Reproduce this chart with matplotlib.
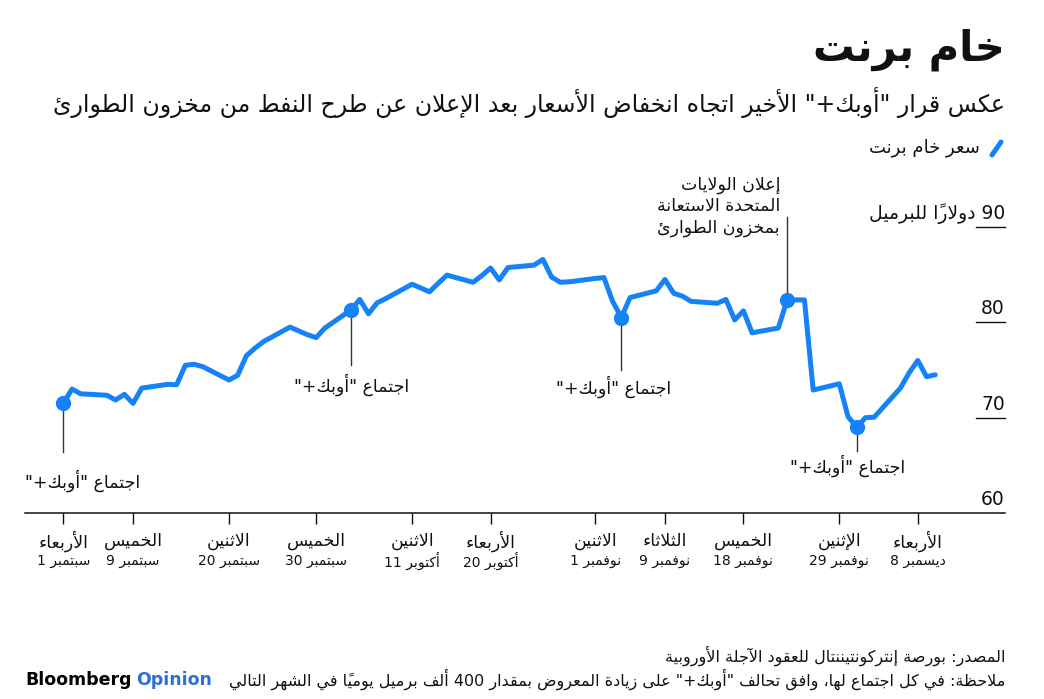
import re

import matplotlib

matplotlib.use("Agg")
import matplotlib.pyplot as plt
import matplotlib.transforms as mtransforms
from matplotlib.lines import Line2D
import pandas as pd

# ---------------- data ----------------
trade_dates = [
    "2021-09-01", "2021-09-02", "2021-09-03", "2021-09-06", "2021-09-07",
    "2021-09-08", "2021-09-09", "2021-09-10", "2021-09-13", "2021-09-14",
    "2021-09-15", "2021-09-16", "2021-09-17", "2021-09-20", "2021-09-21",
    "2021-09-22", "2021-09-23", "2021-09-24", "2021-09-27", "2021-09-28",
    "2021-09-29", "2021-09-30", "2021-10-01", "2021-10-04", "2021-10-05",
    "2021-10-06", "2021-10-07", "2021-10-08", "2021-10-11", "2021-10-12",
    "2021-10-13", "2021-10-14", "2021-10-15", "2021-10-18", "2021-10-19",
    "2021-10-20", "2021-10-21", "2021-10-22", "2021-10-25", "2021-10-26",
    "2021-10-27", "2021-10-28", "2021-10-29", "2021-11-01", "2021-11-02",
    "2021-11-03", "2021-11-04", "2021-11-05", "2021-11-08", "2021-11-09",
    "2021-11-10", "2021-11-11", "2021-11-12", "2021-11-15", "2021-11-16",
    "2021-11-17", "2021-11-18", "2021-11-19", "2021-11-22", "2021-11-23",
    "2021-11-24", "2021-11-25", "2021-11-26", "2021-11-29", "2021-11-30",
    "2021-12-01", "2021-12-02", "2021-12-03", "2021-12-06", "2021-12-07",
    "2021-12-08", "2021-12-09", "2021-12-10",
]
brent = [
    71.5, 73.0, 72.5, 72.35, 71.85,
    72.45, 71.5, 73.1, 73.5, 73.45,
    75.5, 75.6, 75.35, 73.95, 74.45,
    76.5, 77.3, 78.0, 79.5, 79.1,
    78.7, 78.4, 79.4, 81.3, 82.4,
    80.9, 82.05, 82.5, 84.0, 83.6,
    83.2, 84.1, 84.95, 84.2, 84.9,
    85.7, 84.45, 85.75, 86.0, 86.6,
    84.75, 84.2, 84.25, 84.6, 84.7,
    82.2, 80.5, 82.6, 83.3, 84.5,
    83.05, 82.75, 82.2, 82.0, 82.4,
    80.25, 81.2, 78.9, 79.4, 82.3,
    82.35, 82.35, 72.9, 73.55, 70.1,
    69.0, 70.0, 70.05, 73.1, 74.7,
    76.0, 74.3, 74.5,
]
opec_meetings = ["2021-09-01", "2021-10-04", "2021-11-04", "2021-12-01"]
spr_release = "2021-11-23"

tick_dates = ["2021-09-01", "2021-09-09", "2021-09-20", "2021-09-30", "2021-10-11",
              "2021-10-20", "2021-11-01", "2021-11-09", "2021-11-18", "2021-11-29",
              "2021-12-08"]
tick_weekdays = ["الأربعاء", "الخميس", "الاثنين", "الخميس", "الاثنين", "الأربعاء",
                 "الاثنين", "الثلاثاء", "الخميس", "الإثنين", "الأربعاء"]
month_names = {9: "سبتمبر", 10: "أكتوبر", 11: "نوفمبر", 12: "ديسمبر"}
y_ticks = [60, 70, 80, 90]

title = "خام برنت"
subtitle = 'عكس قرار "أوبك+" الأخير اتجاه انخفاض الأسعار بعد الإعلان عن طرح النفط من مخزون الطوارئ'
legend_label = "سعر خام برنت"
unit_label = "دولاراً للبرميل"
meeting_label = 'اجتماع "أوبك+"'
spr_label = ["إعلان الولايات", "المتحدة الاستعانة", "بمخزون الطوارئ"]
source = "المصدر: بورصة إنتركونتيننتال للعقود الآجلة الأوروبية"
note = 'ملاحظة: في كل اجتماع لها، وافق تحالف "أوبك+" على زيادة المعروض بمقدار 400 ألف برميل يومياً في الشهر التالي'

# ---------------- simple Arabic shaping (matplotlib has none) ----------------
FORMS = {}
_code = 0xFE80
for _ch, _n in [("ء", 1), ("آ", 2), ("أ", 2), ("ؤ", 2), ("إ", 2), ("ئ", 4), ("ا", 2),
                ("ب", 4), ("ة", 2), ("ت", 4), ("ث", 4), ("ج", 4), ("ح", 4), ("خ", 4),
                ("د", 2), ("ذ", 2), ("ر", 2), ("ز", 2), ("س", 4), ("ش", 4), ("ص", 4),
                ("ض", 4), ("ط", 4), ("ظ", 4), ("ع", 4), ("غ", 4), ("ف", 4), ("ق", 4),
                ("ك", 4), ("ل", 4), ("م", 4), ("ن", 4), ("ه", 4), ("و", 2), ("ى", 2),
                ("ي", 4)]:
    FORMS[_ch] = [chr(_code + i) for i in range(_n)]
    _code += _n
LAM_ALEF = {"آ": 0xFEF5, "أ": 0xFEF7, "إ": 0xFEF9, "ا": 0xFEFB}


def _is_mark(c):
    return "\u064b" <= c <= "\u0652"


def shape(text):
    chars = list(text)
    n = len(chars)

    def neighbour(i, step):
        j = i + step
        while 0 <= j < n and _is_mark(chars[j]):
            j += step
        return (chars[j], j) if 0 <= j < n else (None, None)

    out = []
    i = 0
    while i < n:
        c = chars[i]
        if c not in FORMS:
            out.append(c)
            i += 1
            continue
        prev, _ = neighbour(i, -1)
        nxt, j = neighbour(i, 1)
        joins_prev = prev in FORMS and len(FORMS[prev]) == 4 and len(FORMS[c]) > 1
        if c == "ل" and nxt in LAM_ALEF:
            out.append(chr(LAM_ALEF[nxt] + int(joins_prev)))
            i = j + 1
            continue
        joins_next = len(FORMS[c]) == 4 and nxt in FORMS and len(FORMS[nxt]) > 1
        forms = FORMS[c]
        if joins_prev and joins_next:
            out.append(forms[3])
        elif joins_next:
            out.append(forms[2])
        elif joins_prev:
            out.append(forms[1])
        else:
            out.append(forms[0])
        i += 1
    return "".join(out)


def ar(text):
    """Shape and put an RTL line into visual (left-to-right) order."""
    tokens = re.findall(r"[0-9A-Za-z]+|.[\u064b-\u0652]*", shape(text))
    return "".join(reversed(tokens))


# ---------------- figure ----------------
W, H = 1044, 699
BLUE = "#1682f8"
INK = "#111111"
AR_FONT = ["DejaVu Sans", "Noto Sans"]
plt.rcParams["font.family"] = AR_FONT

fig = plt.figure(figsize=(W / 100, H / 100), dpi=100)
ax = fig.add_axes([25 / W, 1 - 513 / H, 980 / W, (513 - 227) / H])


def fx(px):
    return px / W


def fy(py):
    return 1 - py / H


dates = pd.to_datetime(trade_dates)
start = dates[0]
x = (dates - start).days

ax.plot(x, brent, color=BLUE, lw=3.6, solid_joinstyle="round",
        solid_capstyle="round", zorder=3, clip_on=False)
ax.set_xlim(-4.39, 108.0)
ax.set_ylim(60, 90)

for side in ["top", "right", "left"]:
    ax.spines[side].set_visible(False)
ax.spines["bottom"].set_color(INK)
ax.spines["bottom"].set_linewidth(1.1)
ax.set_yticks([])

tick_x = [(pd.Timestamp(d) - start).days for d in tick_dates]
ax.set_xticks(tick_x)
ax.set_xticklabels([])
ax.tick_params(axis="x", length=8, width=1, color=INK, direction="out")

xfig = mtransforms.blended_transform_factory(ax.transData, fig.transFigure)
for tx, d, wd in zip(tick_x, tick_dates, tick_weekdays):
    ts = pd.Timestamp(d)
    ax.text(tx, fy(541), ar(wd), transform=xfig, ha="center", va="center",
            fontsize=12.5, color=INK)
    ax.text(tx, fy(561), f"{ts.day} " + ar(month_names[ts.month]), transform=xfig,
            ha="center", va="center", fontsize=10, color=INK)

# short gridlines and labels at the right
yax = mtransforms.blended_transform_factory(ax.transAxes, ax.transData)
lab_tr = mtransforms.offset_copy(yax, fig=fig, x=0, y=8, units="dots")
for v in y_ticks:
    if v != y_ticks[0]:
        ax.plot([(976 - 25) / 980, 1.0], [v, v], transform=yax, color=INK,
                lw=1, clip_on=False)
    label = f"{v}"
    if v == y_ticks[-1]:
        label = ar(unit_label) + " " + label
    ax.text(1.0, v, label, transform=lab_tr, ha="right", va="baseline",
            fontsize=13.5, color=INK)

# event markers
meet_x = [(pd.Timestamp(d) - start).days for d in opec_meetings]
meet_y = [brent[trade_dates.index(d)] for d in opec_meetings]
spr_x = (pd.Timestamp(spr_release) - start).days
spr_y = brent[trade_dates.index(spr_release)]
ax.plot(meet_x + [spr_x], meet_y + [spr_y], "o", ms=10, color=BLUE, zorder=4,
        clip_on=False)

line_ends = [66.4, 75.5, 75.0, 66.5]
text_pos = [(-4.39, 63.4, "left"), (33.1, 73.4, "center"),
            (63.1, 73.2, "center"), (90.0, 65.0, "center")]
for mx, my, ye, (tx, ty, ha) in zip(meet_x, meet_y, line_ends, text_pos):
    ax.plot([mx, mx], [my, ye], color="#333333", lw=1, zorder=2)
    ax.text(tx, ty, ar(meeting_label), ha=ha, va="center", fontsize=12.5, color=INK)

ax.plot([spr_x, spr_x], [spr_y, 91.0], color="#333333", lw=1, zorder=2,
        clip_on=False)
ax.text(82.2, 95.4, "\n".join(ar(s) for s in spr_label), ha="right", va="top",
        multialignment="right", fontsize=12.5, color=INK, linespacing=1.25)

# headings
fig.text(fx(1005), fy(50), ar(title), ha="right", va="center", fontsize=30,
         fontweight="bold", color=INK)
fig.text(fx(1005), fy(103), ar(subtitle), ha="right", va="center", fontsize=17,
         color=INK)
fig.add_artist(Line2D([fx(992), fx(1001)], [fy(155), fy(142)], color=BLUE, lw=3.6,
                      solid_capstyle="round"))
fig.text(fx(980), fy(148), ar(legend_label), ha="right", va="center", fontsize=13,
         color=INK)

# footer
fig.text(fx(1005), fy(656), ar(source), ha="right", va="center", fontsize=11.5,
         color=INK)
fig.text(fx(1005), fy(679), ar(note), ha="right", va="center", fontsize=11.5,
         color=INK)
bb = fig.text(fx(25), fy(680), "Bloomberg", ha="left", va="center", fontsize=12.5,
              fontweight="bold", color="black", family="DejaVu Sans")
fig.canvas.draw()
ext = bb.get_window_extent()
fig.text(ext.x1 / W + fx(5), fy(680), "Opinion", ha="left", va="center",
         fontsize=12.5, fontweight="bold", color="#2a6fdb", family="DejaVu Sans")

fig.savefig("out.png", dpi=100)
